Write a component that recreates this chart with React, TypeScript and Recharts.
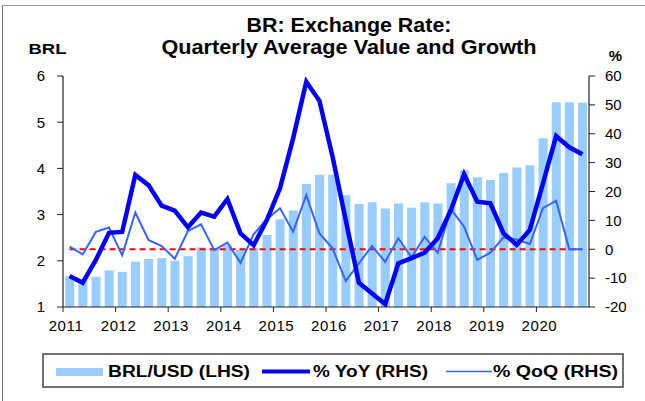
import { ComposedChart, Bar, Line, XAxis, YAxis, ReferenceLine } from 'recharts';

// quarterly data, 2011Q1 .. 2020Q4
const quarters = [
  '2011Q1', '2011Q2', '2011Q3', '2011Q4', '2012Q1', '2012Q2', '2012Q3', '2012Q4',
  '2013Q1', '2013Q2', '2013Q3', '2013Q4', '2014Q1', '2014Q2', '2014Q3', '2014Q4',
  '2015Q1', '2015Q2', '2015Q3', '2015Q4', '2016Q1', '2016Q2', '2016Q3', '2016Q4',
  '2017Q1', '2017Q2', '2017Q3', '2017Q4', '2018Q1', '2018Q2', '2018Q3', '2018Q4',
  '2019Q1', '2019Q2', '2019Q3', '2019Q4', '2020Q1', '2020Q2', '2020Q3', '2020Q4',
];
const brlUsd = [
  1.67, 1.58, 1.65, 1.79, 1.76, 1.98, 2.04, 2.06,
  2.0, 2.1, 2.29, 2.27, 2.33, 2.24, 2.28, 2.56,
  2.9, 3.09, 3.66, 3.86, 3.86, 3.42, 3.23, 3.27,
  3.13, 3.24, 3.15, 3.27, 3.24, 3.68, 3.96, 3.81,
  3.75, 3.9, 4.02, 4.07, 4.65, 5.43, 5.43, 5.42,
];
const yoy = [
  -9.3, -11.6, -3.7, 5.7, 6.0, 25.7, 22.2, 15.1,
  13.4, 7.6, 12.7, 11.3, 17.4, 5.5, 1.4, 10.1,
  21.1, 38.4, 58.0, 51.4, 32.0, 10.1, -11.6, -15.3,
  -19.0, -4.9, -3.1, -1.2, 3.8, 13.6, 26.0, 16.5,
  15.9, 5.5, 1.5, 6.7, 22.8, 39.2, 35.3, 32.9,
];
const qoq = [
  0.9, -1.8, 6.0, 7.5, -2.1, 12.7, 3.2, 1.1,
  -3.3, 6.3, 8.6, -0.3, 2.3, -4.7, 5.2, 10.4,
  14.2, 6.1, 18.8, 5.5, 0.3, -11.0, -4.9, 1.1,
  -4.4, 3.8, -2.8, 4.3, -1.2, 13.9, 7.8, -3.7,
  -1.2, 4.1, 3.4, 1.8, 14.2, 16.8, 0, 0,
];
const leftTicks = [1, 2, 3, 4, 5, 6];
const rightTicks = [-20, -10, 0, 10, 20, 30, 40, 50, 60];
const yearTicks = quarters.filter((q) => q.endsWith('Q1'));

const data = quarters.map((q, i) => ({ q, brl: brlUsd[i], yoy: yoy[i], qoq: qoq[i] }));

const FONT = '"Liberation Sans", Arial, Helvetica, sans-serif';
const AXIS = '#222';
const BAR_COLOR = '#99CCFF';
const YOY_COLOR = '#0000FF';
const QOQ_COLOR = '#3366FF';

const PLOT_LEFT = 63;
const PLOT_RIGHT = 589;
const HALF_BAND = (PLOT_RIGHT - PLOT_LEFT) / quarters.length / 2;

// year ticks sit on the boundary between Q4 and Q1
const YearTick = ({ x, y, payload }: any) => {
  const bx = x - HALF_BAND;
  return (
    <g>
      <line x1={bx} y1={y} x2={bx} y2={y + 5} stroke={AXIS} strokeWidth={1} />
      <text x={bx + 3} y={y + 23.5} textAnchor="middle" fontSize={15} fontFamily={FONT} fill="#000" letterSpacing={0.6}>
        {String(payload.value).slice(0, 4)}
      </text>
    </g>
  );
};

const tickStyle = { fontSize: 15, fontFamily: FONT, fill: '#000' };

export default function App() {
  return (
    <div style={{ position: 'absolute', left: 0, top: 0, width: 645, height: 401, background: '#fff', overflow: 'hidden' }}>
      <div
        style={{
          position: 'absolute',
          left: 2,
          top: 5,
          right: -2,
          bottom: -2,
          borderLeft: '1.5px solid #777',
          borderTop: '1.5px solid #999',
        }}
      />
      <ComposedChart
        width={645}
        height={401}
        data={data}
        margin={{ top: 76, right: 0, bottom: 64, left: 0 }}
        barCategoryGap="17%"
        style={{ position: 'absolute', left: 0, top: 0 }}
      >
        <XAxis
          dataKey="q"
          ticks={yearTicks}
          interval={0}
          tick={<YearTick />}
          tickLine={false}
          tickSize={0}
          tickMargin={0}
          height={30}
          axisLine={{ stroke: AXIS, strokeWidth: 1.2 }}
        />
        <YAxis
          yAxisId="left"
          domain={[1, 6]}
          ticks={leftTicks}
          interval={0}
          width={63}
          tickSize={6}
          tickMargin={12}
          tick={tickStyle}
          axisLine={{ stroke: AXIS, strokeWidth: 1.2 }}
          tickLine={{ stroke: AXIS }}
          allowDataOverflow
        />
        <YAxis
          yAxisId="right"
          orientation="right"
          domain={[-20, 60]}
          ticks={rightTicks}
          interval={0}
          width={56}
          tickSize={6}
          tickMargin={10}
          tick={tickStyle}
          axisLine={{ stroke: AXIS, strokeWidth: 1.2 }}
          tickLine={{ stroke: AXIS }}
          allowDataOverflow
        />
        <Bar yAxisId="left" dataKey="brl" fill={BAR_COLOR} isAnimationActive={false} />
        <ReferenceLine
          yAxisId="right"
          segment={[
            { x: quarters[0], y: 0 },
            { x: quarters[quarters.length - 1], y: 0 },
          ]}
          stroke="#FF0000"
          strokeWidth={2}
          strokeDasharray="6 4"
          ifOverflow="visible"
        />
        <Line
          yAxisId="right"
          type="linear"
          dataKey="qoq"
          stroke={QOQ_COLOR}
          strokeWidth={2}
          dot={false}
          activeDot={false}
          isAnimationActive={false}
        />
        <Line
          yAxisId="right"
          type="linear"
          dataKey="yoy"
          stroke={YOY_COLOR}
          strokeWidth={4.5}
          dot={false}
          activeDot={false}
          isAnimationActive={false}
        />
      </ComposedChart>

      <svg width={645} height={401} style={{ position: 'absolute', left: 0, top: 0, pointerEvents: 'none' }}>
        <g fontFamily={FONT} fontWeight="bold" fill="#000">
          <text x={349} y={32.3} fontSize={20} textAnchor="middle" textLength={205} lengthAdjust="spacingAndGlyphs">
            BR: Exchange Rate:
          </text>
          <text x={349} y={54.3} fontSize={20} textAnchor="middle" textLength={375} lengthAdjust="spacingAndGlyphs">
            Quarterly Average Value and Growth
          </text>
          <text x={47.5} y={54.3} fontSize={15} textAnchor="middle" textLength={38} lengthAdjust="spacingAndGlyphs">
            BRL
          </text>
          <text x={615.5} y={60.7} fontSize={15} textAnchor="middle">
            %
          </text>
        </g>
        <rect x={43} y={354} width={580} height={33} fill="#fff" stroke="#444" strokeWidth={1.5} />
        <rect x={56} y={368} width={47} height={8} fill={BAR_COLOR} />
        <line x1={262} y1={371.5} x2={310} y2={371.5} stroke={YOY_COLOR} strokeWidth={4} />
        <line x1={446} y1={371.5} x2={492} y2={371.5} stroke={QOQ_COLOR} strokeWidth={1.5} />
        <g fontFamily={FONT} fontWeight="bold" fill="#000" fontSize={16}>
          <text x={108} y={377} textLength={142} lengthAdjust="spacingAndGlyphs">BRL/USD (LHS)</text>
          <text x={313} y={377} textLength={115} lengthAdjust="spacingAndGlyphs">% YoY (RHS)</text>
          <text x={493} y={377} textLength={125} lengthAdjust="spacingAndGlyphs">% QoQ (RHS)</text>
        </g>
      </svg>
    </div>
  );
}
